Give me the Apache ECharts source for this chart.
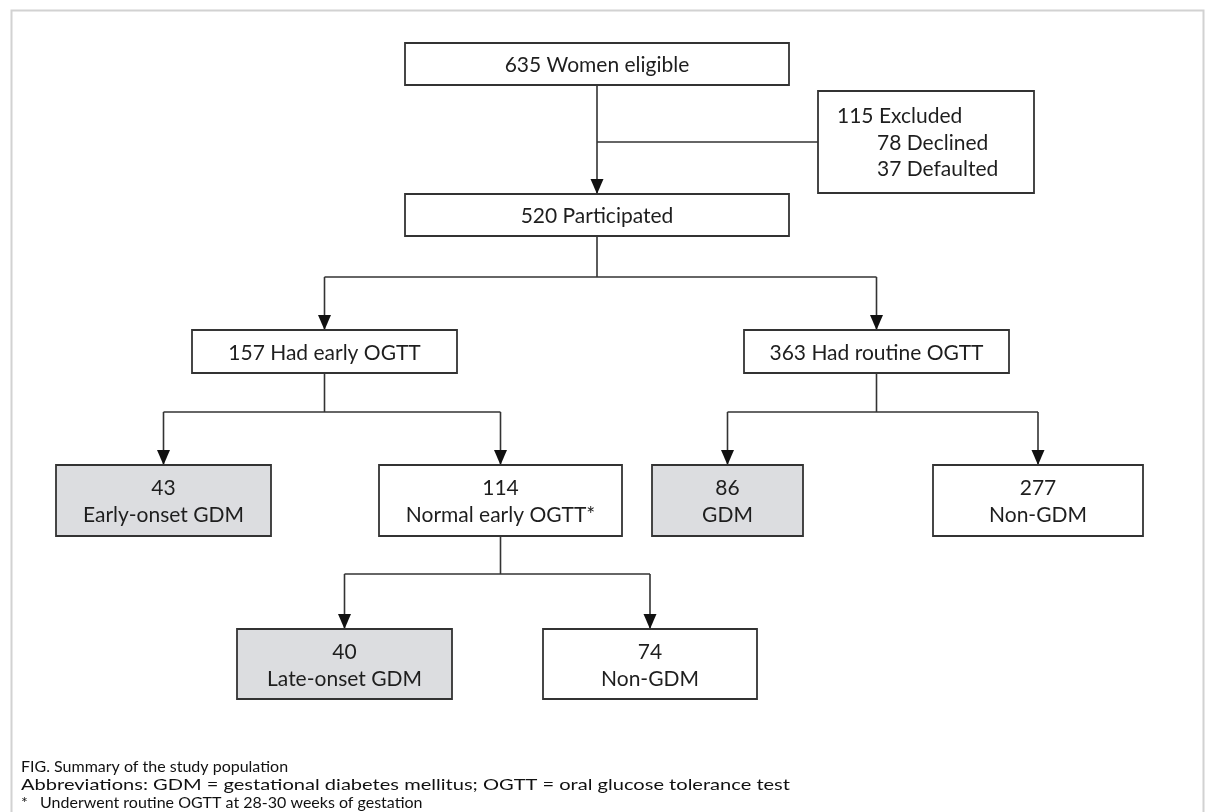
<!DOCTYPE html>
<html><head><meta charset="utf-8">
<script src="https://cdn.jsdelivr.net/npm/echarts@6/dist/echarts.min.js"></script>
<style>html,body{margin:0;padding:0;background:#fff}#c{width:1206px;height:812px}</style>
</head><body><div id="c"></div><script>
// ---- content ----
const nodeLines = [
  ['635 Women eligible'],
  ['115 Excluded', '78 Declined', '37 Defaulted'],
  ['520 Participated'],
  ['157 Had early OGTT'],
  ['363 Had routine OGTT'],
  ['43', 'Early-onset GDM'],
  ['114', 'Normal early OGTT*'],
  ['86', 'GDM'],
  ['277', 'Non-GDM'],
  ['40', 'Late-onset GDM'],
  ['74', 'Non-GDM']
];
const nodeIsGdm = [false, false, false, false, false, true, false, true, false, true, false];
const captionTitle = 'FIG. Summary of the study population';
const captionLines = [
  'Abbreviations: GDM = gestational diabetes mellitus; OGTT = oral glucose tolerance test',
  '*   Underwent routine OGTT at 28-30 weeks of gestation'
];

// ---- layout (diagram units) ----
const nodeBoxes = [
  [405, 43, 789, 85],
  [818, 91, 1034, 193],
  [405, 194, 789, 236],
  [192, 330, 457, 373],
  [744, 330, 1009, 373],
  [56, 465, 271, 536],
  [379, 465, 622, 536],
  [652, 465, 803, 536],
  [933, 465, 1143, 536],
  [237, 629, 452, 699],
  [543, 629, 757, 699]
];
// [parent, branchY, children]
const branches = [
  [0, null, [2]],
  [2, 277, [3, 4]],
  [3, 412, [5, 6]],
  [4, 412, [7, 8]],
  [6, 574, [9, 10]]
];
// side link: from parent stem at y to side box left
const sideLinks = [[0, 1, 142]];

// ---- build geometry from layout ----
function cx(i) { const b = nodeBoxes[i]; return (b[0] + b[2]) / 2; }
const segments = [];
const arrowTips = [];
branches.forEach(function (br) {
  const p = br[0], by = br[1], kids = br[2];
  const px = cx(p), py = nodeBoxes[p][3];
  if (by === null) {
    kids.forEach(function (k) {
      segments.push([px, py, cx(k), nodeBoxes[k][1]]);
      arrowTips.push([cx(k), nodeBoxes[k][1]]);
    });
    return;
  }
  segments.push([px, py, px, by]);
  const xs = kids.map(cx);
  segments.push([Math.min.apply(null, xs), by, Math.max.apply(null, xs), by]);
  kids.forEach(function (k) {
    segments.push([cx(k), by, cx(k), nodeBoxes[k][1]]);
    arrowTips.push([cx(k), nodeBoxes[k][1]]);
  });
});
sideLinks.forEach(function (s) {
  segments.push([cx(s[0]), s[2], nodeBoxes[s[1]][0], s[2]]);
});

const FONT = 'Lato, "Open Sans", sans-serif';
const INK = '#1e1e1e';
const LINE = '#333';
const BOXFONT = '21px ' + FONT;
const CAPFONT = '16px ' + FONT;

// caption abbreviation line is set wider in the reference: stretch horizontally
const mctx = document.createElement('canvas').getContext('2d');
mctx.font = CAPFONT;
const abbrW = mctx.measureText(captionLines[0]).width || 613;
const abbrScale = (790 - 21) / abbrW;

const chart = echarts.init(document.getElementById('c'), null, { renderer: 'canvas' });
chart.setOption({
  animation: false,
  backgroundColor: '#fff',
  grid: { left: 0, right: 0, top: 0, bottom: 0 },
  xAxis: { type: 'value', min: 0, max: 1206, show: false },
  yAxis: { type: 'value', min: 0, max: 812, inverse: true, show: false },
  graphic: [
    { type: 'rect', left: 9, top: 8, shape: { width: 1192, height: 900 },
      style: { fill: 'none', stroke: '#d2d2d2', lineWidth: 2 }, silent: true },
    { type: 'text', x: 21, y: 759,
      style: { text: captionTitle, font: CAPFONT, fill: '#111' } },
    { type: 'text', x: 21, y: 777, scaleX: abbrScale, originX: 0,
      style: { text: captionLines[0], font: CAPFONT, fill: '#111' } },
    { type: 'text', x: 21, y: 795,
      style: { text: captionLines[1], font: CAPFONT, fill: '#111' } }
  ],
  series: [
    {
      type: 'custom', silent: true, coordinateSystem: 'cartesian2d',
      data: segments,
      renderItem: function (params, api) {
        const a = api.coord([api.value(0), api.value(1)]);
        const b = api.coord([api.value(2), api.value(3)]);
        return { type: 'line', shape: { x1: a[0], y1: a[1], x2: b[0], y2: b[1] },
          style: { stroke: LINE, lineWidth: 1.6 } };
      }
    },
    {
      type: 'custom', silent: true, coordinateSystem: 'cartesian2d',
      data: arrowTips,
      renderItem: function (params, api) {
        const t = api.coord([api.value(0), api.value(1)]);
        return { type: 'polygon',
          shape: { points: [[t[0], t[1]], [t[0] - 6.5, t[1] - 15], [t[0] + 6.5, t[1] - 15]] },
          style: { fill: '#111' } };
      }
    },
    {
      type: 'custom', silent: true, coordinateSystem: 'cartesian2d',
      data: nodeBoxes,
      renderItem: function (params, api) {
        const i = params.dataIndex;
        const p0 = api.coord([api.value(0), api.value(1)]);
        const p1 = api.coord([api.value(2), api.value(3)]);
        const w = p1[0] - p0[0], h = p1[1] - p0[1];
        const children = [{
          type: 'rect', shape: { x: p0[0], y: p0[1], width: w, height: h },
          style: { fill: nodeIsGdm[i] ? '#dcdde0' : '#fff', stroke: LINE, lineWidth: 1.8 }
        }];
        const lines = nodeLines[i];
        const mid = (p0[1] + p1[1]) / 2;
        if (i === 1) {
          const lh = 26.7;
          lines.forEach(function (s, j) {
            children.push({ type: 'text', style: {
              text: s, x: p0[0] + (j === 0 ? 19 : 59), y: mid + (j - 1) * lh + 1,
              font: BOXFONT, fill: INK, align: 'left', verticalAlign: 'middle' } });
          });
        } else {
          const lh = 27;
          const n = lines.length;
          lines.forEach(function (s, j) {
            children.push({ type: 'text', style: {
              text: s, x: (p0[0] + p1[0]) / 2, y: mid + (j - (n - 1) / 2) * lh + 1.5,
              font: BOXFONT, fill: INK, align: 'center', verticalAlign: 'middle' } });
          });
        }
        return { type: 'group', children: children };
      }
    }
  ]
});
</script></body></html>
